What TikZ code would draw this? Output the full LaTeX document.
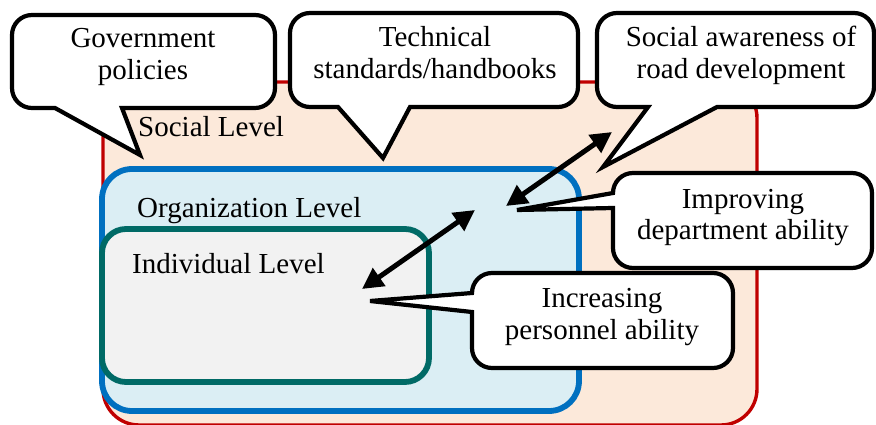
\documentclass[tikz,border=0pt]{standalone}
\usepackage{fontspec}
\setmainfont{Liberation Serif}
\usetikzlibrary{arrows.meta}
\definecolor{socred}{HTML}{C00000}
\definecolor{socfill}{HTML}{FCE9DA}
\definecolor{orgblue}{HTML}{0070C0}
\definecolor{orgfill}{HTML}{DBEEF4}
\definecolor{indteal}{HTML}{006A66}
\definecolor{indfill}{HTML}{F2F2F2}
\tikzset{
  levelbox/.style={line width=#1},
  calloutbox/.style={draw=black, fill=white, line width=4.2pt, line join=miter, miter limit=10},
  leveltext/.style={inner sep=0pt, font=\fontsize{29}{32}\selectfont},
  callouttext/.style={inner sep=0pt, align=center, font=\fontsize{29}{32}\selectfont},
  dblarrow/.style={line width=5pt, {Triangle[length=21pt,width=21pt]}-{Triangle[length=21pt,width=21pt]}}
}
\begin{document}
\begin{tikzpicture}[x=1pt,y=-1pt]
\useasboundingbox (0,0) rectangle (876,425);
% levels
\draw[levelbox=3.4pt, draw=socred, fill=socfill, rounded corners=36pt] (103,82) rectangle (757,425);
\draw[levelbox=5.8pt, draw=orgblue, fill=orgfill, rounded corners=30pt] (102,169) rectangle (579,411);
\draw[levelbox=5.8pt, draw=indteal, fill=indfill, rounded corners=24pt] (102,229) rectangle (429,382);
\node[leveltext, anchor=base west] (soclbl) at (138,137) {Social Level};
\node[leveltext, anchor=base west] (orglbl) at (137,218) {Organization Level};
\node[leveltext, anchor=base west] (indlbl) at (132,273) {Individual Level};
% callout 1: Government policies (L=12,T=15,R=275,B=108)
\draw[calloutbox] (122,108) -- (255,108) arc[start angle=90,end angle=0,radius=20]
  -- (275,35) arc[start angle=0,end angle=-90,radius=20]
  -- (32,15) arc[start angle=-90,end angle=-180,radius=20]
  -- (12,88) arc[start angle=180,end angle=90,radius=20]
  -- (55,108) -- (140,155) -- cycle;
\node[callouttext] (gov) at (143,57.6) {\strut Government\\\strut policies};
% callout 2: Technical standards (L=290,T=13,R=578,B=107)
\draw[calloutbox] (410,107) -- (558,107) arc[start angle=90,end angle=0,radius=20]
  -- (578,33) arc[start angle=0,end angle=-90,radius=20]
  -- (310,13) arc[start angle=-90,end angle=-180,radius=20]
  -- (290,87) arc[start angle=180,end angle=90,radius=20]
  -- (338,107) -- (383,158) -- cycle;
\node[callouttext] (tech) at (435,56.6) {\strut Technical\\\strut standards/handbooks};
% callout 3: Social awareness (L=597,T=13,R=874,B=107)
\draw[calloutbox] (717,107) -- (854,107) arc[start angle=90,end angle=0,radius=20]
  -- (874,33) arc[start angle=0,end angle=-90,radius=20]
  -- (617,13) arc[start angle=-90,end angle=-180,radius=20]
  -- (597,87) arc[start angle=180,end angle=90,radius=20]
  -- (648,107) -- (603,167) -- cycle;
\node[callouttext] (aware) at (741,56.6) {\strut Social awareness of\\\strut road development};
% callout 4: Improving department ability (L=613,T=173,R=872,B=268)
\draw[calloutbox] (613,208) -- (613,248) arc[start angle=180,end angle=90,radius=20]
  -- (852,268) arc[start angle=90,end angle=0,radius=20]
  -- (872,193) arc[start angle=0,end angle=-90,radius=20]
  -- (633,173) arc[start angle=-90,end angle=-180,radius=20]
  -- (613,193) -- (517,210) -- cycle;
\node[callouttext] (dept) at (743,217.6) {\strut Improving\\\strut department ability};
% callout 5: Increasing personnel ability (L=472,T=273,R=733,B=368)
\draw[calloutbox] (472,312) -- (472,348) arc[start angle=180,end angle=90,radius=20]
  -- (713,368) arc[start angle=90,end angle=0,radius=20]
  -- (733,293) arc[start angle=0,end angle=-90,radius=20]
  -- (492,273) arc[start angle=-90,end angle=-180,radius=20]
  -- (472,293) -- (370,301) -- cycle;
\node[callouttext] (pers) at (602,316.6) {\strut Increasing\\\strut personnel ability};
% arrows
\coordinate (a1top) at (612,132);
\coordinate (a1bot) at (506,206);
\coordinate (a2top) at (475,210);
\coordinate (a2bot) at (362,289);
\draw[dblarrow] (a1bot) -- (a1top);
\draw[dblarrow] (a2bot) -- (a2top);
\end{tikzpicture}
\end{document}
